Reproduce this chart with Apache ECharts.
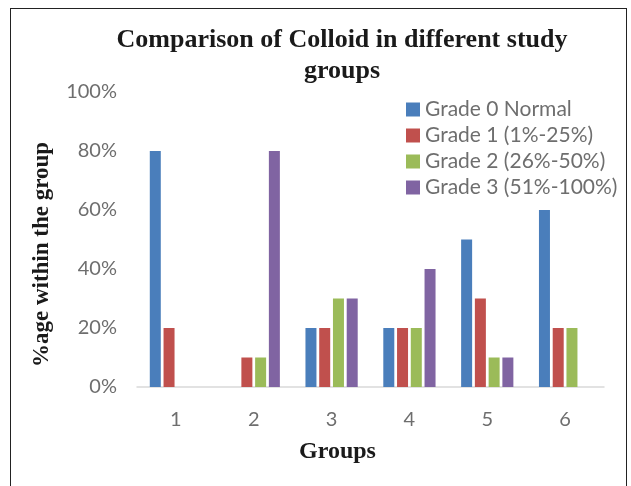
<!DOCTYPE html>
<html>
<head>
<meta charset="utf-8">
<script src="https://cdn.jsdelivr.net/npm/echarts@6/dist/echarts.min.js"></script>
<style>
  html, body { margin: 0; padding: 0; background: #fff; }
  #frame { position: absolute; left: 10px; top: 8px; width: 617px; height: 490px; border: 1.5px solid #222; border-bottom: none; box-sizing: border-box; }
  #chart { width: 631px; height: 486px; }
</style>
</head>
<body>
<div id="frame"></div>
<div id="chart"></div>
<script>
const groups = ['1', '2', '3', '4', '5', '6'];
const grade0 = [80, 0, 20, 20, 50, 60];
const grade1 = [20, 10, 20, 20, 30, 20];
const grade2 = [0, 10, 30, 20, 10, 20];
const grade3 = [0, 80, 30, 40, 10, 0];
const seriesNames = ['Grade 0 Normal', 'Grade 1 (1%-25%)', 'Grade 2 (26%-50%)', 'Grade 3 (51%-100%)'];
const colors = ['#4a7ebb', '#c0504d', '#9bbb59', '#8064a2'];

const labelFont = 'Lato, "Open Sans", sans-serif';
const serif = '"Liberation Serif", "DejaVu Serif", serif';

const chart = echarts.init(document.getElementById('chart'));
const values = [grade0, grade1, grade2, grade3];

chart.setOption({
    animation: false,
    title: {
        text: 'Comparison of Colloid in different study\ngroups',
        left: 337,
        top: 20,
        textAlign: 'center',
        textStyle: {
            fontFamily: serif,
            fontWeight: 'bold',
            fontSize: 26,
            lineHeight: 31,
            color: '#1a1a1a'
        }
    },
    legend: {
        data: seriesNames,
        orient: 'vertical',
        left: 401,
        top: 94,
        itemWidth: 14,
        itemHeight: 14,
        itemGap: 5,
        icon: 'rect',
        textStyle: {
            fontFamily: labelFont,
            fontSize: 21,
            lineHeight: 20,
            color: '#6e6e6e'
        }
    },
    grid: {
        left: 137,
        right: 27,
        top: 92,
        bottom: 99
    },
    xAxis: {
        type: 'category',
        data: groups,
        name: 'Groups',
        nameLocation: 'middle',
        nameGap: 53,
        nameTextStyle: {
            fontFamily: serif,
            fontWeight: 'bold',
            fontSize: 24,
            color: '#1a1a1a',
            padding: [0, 66, 0, 0]
        },
        axisLine: { lineStyle: { color: '#d9d9d9', width: 1.5 } },
        axisTick: { show: false },
        axisLabel: {
            margin: 23,
            fontFamily: labelFont,
            fontSize: 20,
            color: '#6e6e6e'
        }
    },
    yAxis: {
        type: 'value',
        min: 0,
        max: 100,
        interval: 20,
        name: '%age within the group',
        nameLocation: 'middle',
        nameGap: 83,
        nameTextStyle: {
            fontFamily: serif,
            fontWeight: 'bold',
            fontSize: 23,
            color: '#1a1a1a',
            padding: [0, 30, 0, 0]
        },
        splitLine: { show: false },
        axisLine: { show: false },
        axisTick: { show: false },
        axisLabel: {
            formatter: '{value}%',
            margin: 20,
            fontFamily: labelFont,
            fontSize: 20,
            color: '#6e6e6e'
        }
    },
    series: seriesNames.map((name, i) => ({
        name: name,
        type: 'bar',
        data: values[i],
        barWidth: 11,
        barGap: '25%',
        itemStyle: { color: colors[i] }
    }))
});
</script>
</body>
</html>
